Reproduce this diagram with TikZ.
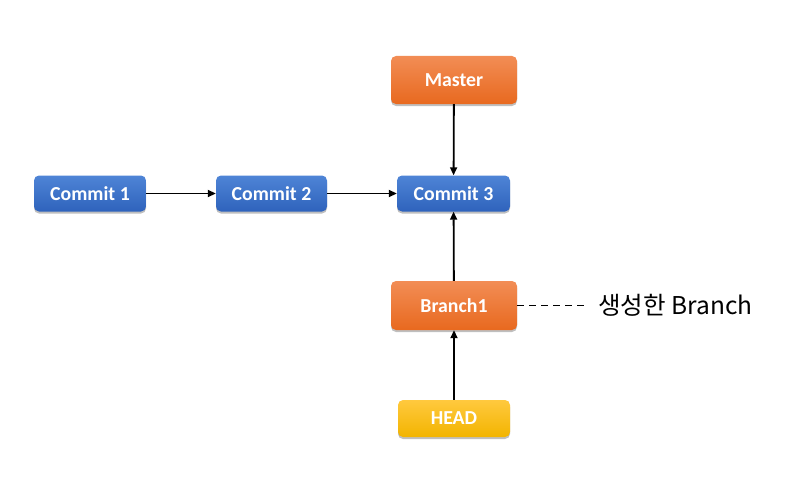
\documentclass[tikz,border=0pt]{standalone}
\usepackage{fontspec}
\setmainfont{Carlito}
\newfontfamily\kr{Noto Sans CJK KR}
\usetikzlibrary{shadows,arrows.meta}
\definecolor{bluetop}{HTML}{4E84D6}
\definecolor{bluebot}{HTML}{2F63BC}
\definecolor{orangetop}{HTML}{F28D55}
\definecolor{orangebot}{HTML}{E8691F}
\definecolor{yellowtop}{HTML}{FFC93E}
\definecolor{yellowbot}{HTML}{F2B400}
\begin{document}
\begin{tikzpicture}[x=1pt,y=-1pt,
  box/.style={rectangle, rounded corners=5pt, text=white, inner sep=0pt,
    font=\fontsize{19.8}{20}\selectfont\bfseries,
    drop shadow={shadow xshift=0pt, shadow yshift=-2pt, opacity=0.25, fill=black}},
  bluebox/.style={box, top color=bluetop, bottom color=bluebot},
  orangebox/.style={box, top color=orangetop, bottom color=orangebot},
  yellowbox/.style={box, top color=yellowtop, bottom color=yellowbot},
  conn/.style={line width=1.8pt, -{Triangle[length=8pt,width=7pt]}}
]
\useasboundingbox (0,0) rectangle (800,487);
\node[bluebox, minimum width=112pt, minimum height=36pt] (c1) at (90,193.5) {Commit 1};
\node[bluebox, minimum width=111pt, minimum height=36pt] (c2) at (271.5,193.5) {Commit 2};
\node[bluebox, minimum width=113pt, minimum height=36pt] (c3) at (453.5,193.5) {Commit 3};
\node[orangebox, minimum width=126pt, minimum height=48pt] (master) at (454,80) {Master};
\node[orangebox, minimum width=126pt, minimum height=49pt] (branch) at (454,305.5) {Branch1};
\node[yellowbox, minimum width=112pt, minimum height=37pt] (head) at (454,418.5) {HEAD};
\node[anchor=west, inner sep=0pt, font=\kr\fontsize{24.5}{25}\selectfont] (label) at (598,305) {생성한 Branch};
\coordinate (dend) at (587,305.5);
\draw[conn] (c1) -- (c2);
\draw[conn] (c2) -- (c3);
\draw[conn] (master) -- (c3);
\draw[conn] (branch) -- (c3);
\draw[conn] (head) -- (branch);
\draw[line width=1.4pt, dash pattern=on 7pt off 5pt] (branch.east) -- (dend);
\end{tikzpicture}
\end{document}
